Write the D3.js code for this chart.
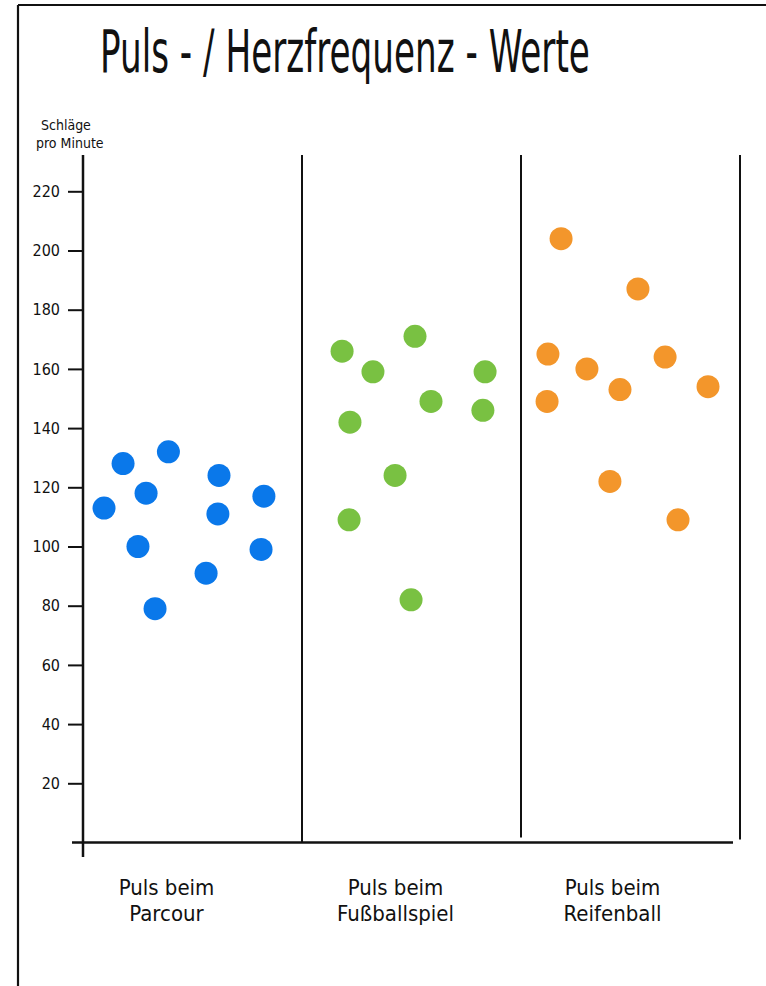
<!DOCTYPE html>
<html>
<head>
<meta charset="utf-8">
<script src="https://cdn.jsdelivr.net/npm/d3@7/dist/d3.min.js"></script>
<style>
  html, body { margin: 0; padding: 0; background: #fff; }
  svg { display: block; }
  text { font-family: "DejaVu Sans Condensed", "DejaVu Sans", sans-serif; fill: #111; }
</style>
</head>
<body>
<svg id="chart" width="766" height="986"></svg>
<script>
// Heart-rate readings (beats per minute) for three activities
const categories = ["Parcour", "Fußballspiel", "Reifenball"];
const categoryLabels = [["Puls beim", "Parcour"], ["Puls beim", "Fußballspiel"], ["Puls beim", "Reifenball"]];

const parcourValues      = [113, 128, 118, 100, 79, 132, 124, 111, 91, 117, 99];
const fussballValues     = [166, 171, 159, 159, 149, 146, 142, 124, 109, 82];
const reifenballValues   = [204, 187, 165, 164, 160, 153, 154, 149, 122, 109];

// horizontal spread of each reading inside its column (0 = left edge, 1 = right edge)
const parcourJitter    = [0.096, 0.183, 0.288, 0.251, 0.329, 0.390, 0.621, 0.616, 0.562, 0.826, 0.813];
const fussballJitter   = [0.183, 0.516, 0.324, 0.836, 0.589, 0.826, 0.219, 0.425, 0.215, 0.498];
const reifenballJitter = [0.183, 0.534, 0.123, 0.658, 0.301, 0.452, 0.854, 0.119, 0.406, 0.717];

const yTicks = [20, 40, 60, 80, 100, 120, 140, 160, 180, 200, 220];
const colors = ["#0a78ea", "#79c142", "#f3962b"];

const series = [
  { cat: categories[0], values: parcourValues,    jitter: parcourJitter },
  { cat: categories[1], values: fussballValues,   jitter: fussballJitter },
  { cat: categories[2], values: reifenballValues, jitter: reifenballJitter }
];

const svg = d3.select("#chart");
const ink = "#111";

// page frame (top and left edges)
svg.append("line").attr("x1", 18).attr("x2", 766).attr("y1", 5).attr("y2", 5)
  .attr("stroke", ink).attr("stroke-width", 2.2);
svg.append("line").attr("x1", 18).attr("x2", 18).attr("y1", 5).attr("y2", 986)
  .attr("stroke", ink).attr("stroke-width", 2.2);

// title, narrowed horizontally to a tall handwritten-like proportion
const titleG = svg.append("g");
const title = titleG.append("text")
  .attr("x", 0).attr("y", 0)
  .attr("font-size", 58)
  .text("Puls - / Herzfrequenz - Werte");
const titleWidth = title.node().getComputedTextLength();
titleG.attr("transform", `translate(100,72) scale(${490 / titleWidth},1)`);

// scales
const x = d3.scaleBand().domain(categories).range([83, 740]).padding(0);
const y = d3.scaleLinear().domain([0, 220]).range([842.5, 191.3]);

// unit label
svg.append("text").attr("x", 41).attr("y", 130).attr("font-size", 14).text("Schläge");
svg.append("text").attr("x", 36).attr("y", 148).attr("font-size", 14).text("pro Minute");

// y axis with ticks
const yAxis = d3.axisLeft(y).tickValues(yTicks).tickSize(15).tickPadding(8);
const gy = svg.append("g").attr("transform", "translate(83,0)").call(yAxis);
gy.select(".domain").remove();
gy.selectAll(".tick line").attr("stroke", ink).attr("stroke-width", 2);
gy.selectAll(".tick text")
  .attr("font-size", 16)
  .attr("fill", ink)
  .style("font-family", "\"DejaVu Sans Condensed\", \"DejaVu Sans\", sans-serif");

svg.append("line").attr("x1", 83).attr("x2", 83).attr("y1", 155).attr("y2", 857)
  .attr("stroke", ink).attr("stroke-width", 2.5);

// x axis baseline
svg.append("line").attr("x1", 72).attr("x2", 733).attr("y1", y(0)).attr("y2", y(0))
  .attr("stroke", ink).attr("stroke-width", 2.5);

// column dividers at the right edge of each category
const dividerEnds = [y(0), y(0) - 5, y(0) - 3];
svg.selectAll("line.divider")
  .data(categories)
  .join("line")
  .attr("class", "divider")
  .attr("x1", d => x(d) + x.bandwidth())
  .attr("x2", d => x(d) + x.bandwidth())
  .attr("y1", 155)
  .attr("y2", (d, i) => dividerEnds[i])
  .attr("stroke", ink)
  .attr("stroke-width", 2);

// dots
series.forEach((s, si) => {
  const inner = d3.scaleLinear().domain([0, 1]).range([x(s.cat), x(s.cat) + x.bandwidth()]);
  svg.append("g")
    .selectAll("circle")
    .data(s.values.map((v, i) => ({ v, j: s.jitter[i] })))
    .join("circle")
    .attr("cx", d => inner(d.j))
    .attr("cy", d => y(d.v))
    .attr("r", 11.5)
    .attr("fill", colors[si]);
});

// category labels
const labelShift = [-26, -16, -18];
categoryLabels.forEach((lines, i) => {
  const cx = x(categories[i]) + x.bandwidth() / 2 + labelShift[i];
  const t = svg.append("text")
    .attr("text-anchor", "middle")
    .attr("font-size", 22);
  lines.forEach((ln, k) => {
    t.append("tspan").attr("x", cx).attr("y", 895 + k * 26).text(ln);
  });
});
</script>
</body>
</html>
